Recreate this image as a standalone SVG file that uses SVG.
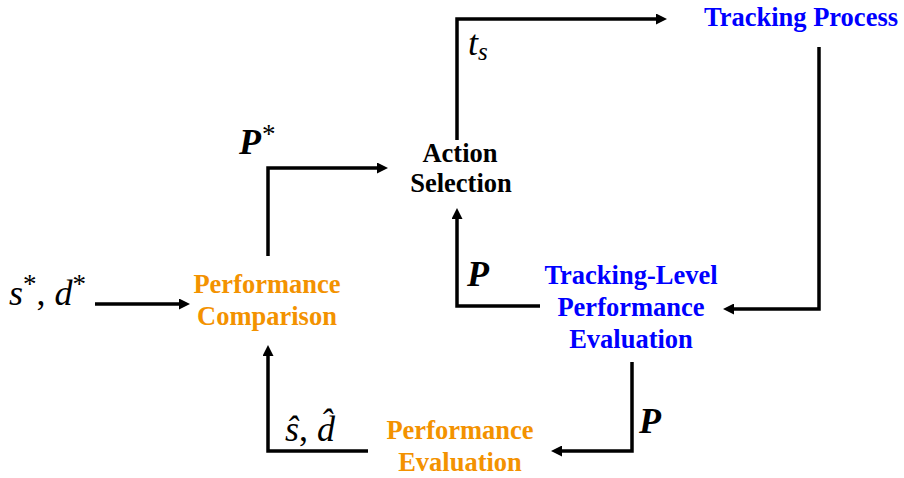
<svg xmlns="http://www.w3.org/2000/svg" width="904" height="478" viewBox="0 0 904 478">
<style>
.n{font-family:"Liberation Serif","Times New Roman",serif;font-weight:bold;font-size:26.5px;text-anchor:middle}
.o{fill:#F39200}
.b{fill:#0000FF}
.k{fill:#000}
.m{font-family:"Liberation Serif","Times New Roman",serif;font-style:italic;font-size:36px;fill:#000}
.mb{font-family:"Liberation Serif","Times New Roman",serif;font-style:italic;font-weight:bold;font-size:36px;fill:#000}
.st{font-style:normal;font-weight:normal;font-size:27px}
.c{fill:none;stroke:#000;stroke-width:3.5;stroke-linejoin:miter;marker-end:url(#ah)}
</style>
<defs>
<marker id="ah" viewBox="0 0 11 11" refX="3" refY="5.5" markerWidth="11" markerHeight="11" markerUnits="userSpaceOnUse" orient="auto">
<path d="M0,0 L11,5.5 L0,11 z" fill="#000"/>
</marker>
</defs>
<rect width="904" height="478" fill="#fff"/>
<g id="connectors">
<path class="c" d="M457,140 V19 H659"/>
<path class="c" d="M819,47 V309 H731"/>
<path class="c" d="M540,306 H457 V216"/>
<path class="c" d="M632,362 V451 H559"/>
<path class="c" d="M368,451 H268 V353"/>
<path class="c" d="M268,256 V168 H380"/>
<path class="c" d="M95,304 H182"/>
</g>
<g id="tracking-process">
<text class="n b" x="801" y="26">Tracking Process</text>
</g>
<g id="action-selection">
<text class="n k" x="460" y="162">Action</text>
<text class="n k" x="461" y="192">Selection</text>
</g>
<g id="performance-comparison">
<text class="n o" x="267" y="293">Performance</text>
<text class="n o" x="267" y="325">Comparison</text>
</g>
<g id="tracking-level-evaluation">
<text class="n b" x="631" y="284">Tracking-Level</text>
<text class="n b" x="631" y="316">Performance</text>
<text class="n b" x="631" y="348">Evaluation</text>
</g>
<g id="performance-evaluation">
<text class="n o" x="460" y="439">Performance</text>
<text class="n o" x="460" y="471">Evaluation</text>
</g>
<g id="labels">
<text class="m" x="9" y="305">s<tspan class="st" dy="-12">*</tspan><tspan font-style="normal" dy="12">, </tspan>d<tspan class="st" dy="-12">*</tspan></text>
<text class="mb" x="239" y="154">P<tspan class="st" dx="1" dy="-11">*</tspan></text>
<text class="m" x="468" y="55">t<tspan font-size="25" dy="5">s</tspan></text>
<text class="mb" x="467" y="286">P</text>
<text class="mb" x="639" y="433">P</text>
<text class="m" x="285" y="441">ŝ<tspan font-style="normal">, </tspan>d̂</text>
</g>
</svg>
